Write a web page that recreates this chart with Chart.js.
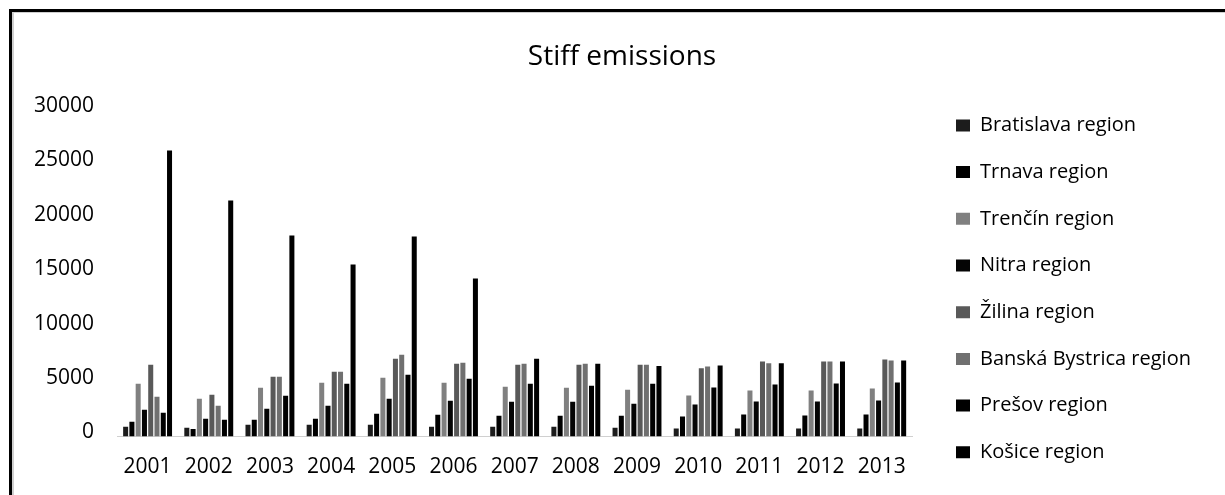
<!DOCTYPE html>
<html><head><meta charset="utf-8">
<script src="https://cdn.jsdelivr.net/npm/chart.js@4.4.1/dist/chart.umd.min.js"></script>
<style>
html,body{margin:0;padding:0;background:#fff;}
#wrap{position:relative;width:1225px;height:495px;overflow:hidden;}
#frame{position:absolute;left:9px;top:9px;width:1240px;height:500px;border-top:3px solid #000;border-left:3px solid #000;}
#inner{position:absolute;left:0;top:0;right:0;bottom:0;border-top:1px solid #cfcfcf;border-left:2px solid #cfcfcf;}
canvas{position:absolute;left:0;top:0;}
</style></head><body>
<div id="wrap"><div id="frame"><div id="inner"></div></div><canvas id="c" width="1225" height="495"></canvas></div>
<script>
const categories = ['2001','2002','2003','2004','2005','2006','2007','2008','2009','2010','2011','2012','2013'];
const seriesNames = ['Bratislava region','Trnava region','Trenčín region','Nitra region','Žilina region','Banská Bystrica region','Prešov region','Košice region'];
const bratislava = [890, 800, 1070, 1070, 1070, 890, 890, 890, 800, 740, 740, 740, 740];
const trnava     = [1350, 700, 1530, 1620, 2080, 1990, 1900, 1900, 1900, 1840, 2020, 1930, 2020];
const trencin    = [4850, 3470, 4480, 4940, 5400, 4940, 4570, 4480, 4290, 3770, 4230, 4230, 4420];
const nitra      = [2450, 1620, 2540, 2820, 3470, 3280, 3190, 3190, 3010, 2940, 3220, 3220, 3310];
const zilina     = [6590, 3830, 5490, 5950, 7150, 6690, 6590, 6590, 6590, 6260, 6900, 6900, 7080];
const banskaBystrica = [3650, 2820, 5490, 5950, 7510, 6780, 6690, 6690, 6590, 6440, 6720, 6900, 6990];
const presov     = [2180, 1530, 3740, 4850, 5670, 5310, 4850, 4660, 4850, 4510, 4780, 4880, 4970];
const kosice     = [26280, 21680, 18460, 15800, 18370, 14510, 7150, 6690, 6480, 6530, 6720, 6900, 6990];
const yTicks = [0, 5000, 10000, 15000, 20000, 25000, 30000];
const seriesColors = ['#1c1c1c','#000000','#808080','#050505','#595959','#707070','#000000','#000000'];

const allSeries = [bratislava, trnava, trencin, nitra, zilina, banskaBystrica, presov, kosice];

const FONT = 'Open Sans';
const LEG_SIZE = 20, LEG_PAD = 26.7, BOXW = 14;
const mctx = document.createElement('canvas').getContext('2d');
mctx.font = LEG_SIZE + 'px "' + FONT + '"';
const maxW = Math.max(...seriesNames.map(n => mctx.measureText(n).width));
const legendW = LEG_PAD + (BOXW + LEG_SIZE/2 + maxW) + 10;
const padRight = Math.max(0, 1225 - (956 - LEG_PAD) - legendW);
const padLeft = 20;
const yAxisW = 117 - padLeft;
const TITLE_CENTER_X = 622;

const titleShift = {
  id: 'titleShift',
  afterLayout(chart) {
    const t = chart.titleBlock;
    if (!t) return;
    const d = TITLE_CENTER_X - (t.left + t.right) / 2;
    t.left += d; t.right += d;
  }
};

new Chart(document.getElementById('c'), {
  type: 'bar',
  data: {
    labels: categories,
    datasets: seriesNames.map((n, i) => ({
      label: n,
      data: allSeries[i],
      backgroundColor: seriesColors[i],
      borderWidth: 0,
      categoryPercentage: 0.82,
      barPercentage: 0.8
    }))
  },
  plugins: [titleShift],
  options: {
    responsive: false,
    animation: false,
    devicePixelRatio: 1,
    layout: { padding: { left: padLeft, right: padRight, top: 0, bottom: 6 } },
    plugins: {
      title: {
        display: true, text: 'Stiff emissions', color: '#000',
        font: { family: FONT, size: 28, weight: 'normal' },
        padding: { top: 40, bottom: 36.4 }
      },
      legend: {
        position: 'right', align: 'end', maxWidth: 420,
        labels: {
          color: '#000', boxWidth: BOXW, boxHeight: 12, padding: LEG_PAD,
          font: { family: FONT, size: LEG_SIZE }
        }
      },
      tooltip: { enabled: false }
    },
    scales: {
      x: {
        grid: { display: false, drawTicks: false },
        border: { display: true, color: '#d0d0d0', width: 1 },
        ticks: { color: '#000', padding: 18, font: { family: FONT, size: 21 }, maxRotation: 0 },
        afterFit: s => { s.height = 52.5; }
      },
      y: {
        min: 0, max: 30000,
        grid: { display: false, drawTicks: false },
        border: { display: false },
        afterBuildTicks: s => { s.ticks = yTicks.map(v => ({ value: v })); },
        ticks: { color: '#000', padding: 23, labelOffset: -4, font: { family: FONT, size: 21 }, callback: v => String(v) },
        afterFit: s => { s.width = yAxisW; }
      },
      yR: {
        type: 'linear', position: 'right', display: true,
        grid: { display: false, drawTicks: false },
        border: { display: false },
        ticks: { display: false },
        afterFit: s => { s.width = 17; }
      }
    }
  }
});
</script>
</body></html>
